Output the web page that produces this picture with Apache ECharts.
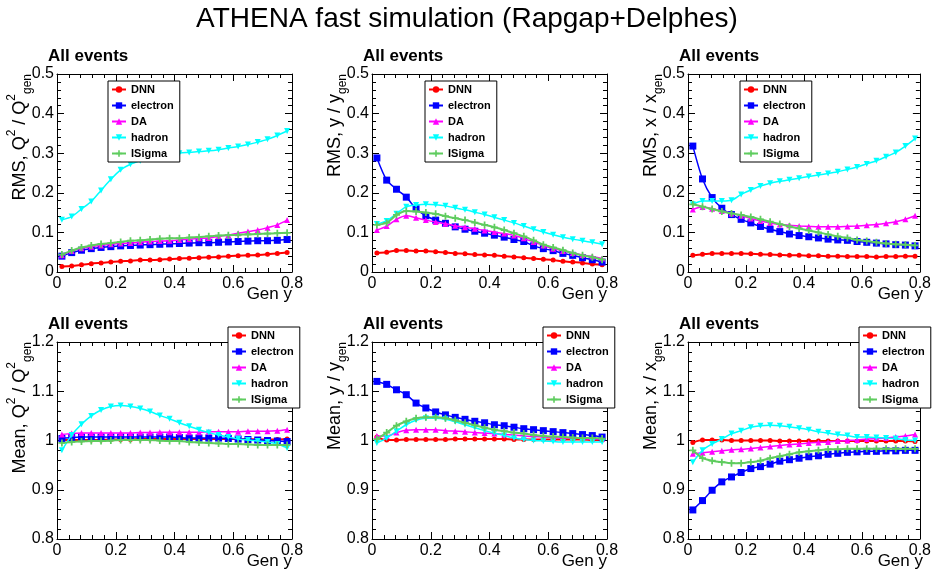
<!DOCTYPE html>
<html>
<head>
<meta charset="utf-8">
<script src="https://cdn.jsdelivr.net/npm/echarts@6/dist/echarts.min.js"></script>
<style>
html,body{margin:0;padding:0;background:#fff;}
#chart{width:934px;height:577px;}
</style>
</head>
<body>
<div id="chart"></div>
<script>
// Bin centres of generated y (30 bins over 0..1, first 24 shown)
const genY = [0.0167,0.05,0.0833,0.1167,0.15,0.1833,0.2167,0.25,0.2833,0.3167,0.35,0.3833,
              0.4167,0.45,0.4833,0.5167,0.55,0.5833,0.6167,0.65,0.6833,0.7167,0.75,0.7833];

const methods = ['DNN','electron','DA','hadron','ISigma'];
const xTicks = [0,0.2,0.4,0.6,0.8];

// RMS of Q2 / Q2_gen
const rmsQ2_DNN      = [0.014,0.015,0.018,0.021,0.023,0.025,0.027,0.028,0.030,0.030,0.031,0.033,0.034,0.035,0.036,0.037,0.038,0.040,0.041,0.042,0.043,0.045,0.047,0.049];
const rmsQ2_electron = [0.040,0.049,0.055,0.059,0.062,0.064,0.066,0.067,0.068,0.069,0.070,0.071,0.072,0.073,0.074,0.074,0.075,0.076,0.077,0.078,0.079,0.079,0.080,0.082];
const rmsQ2_DA       = [0.042,0.053,0.060,0.064,0.067,0.070,0.072,0.073,0.075,0.077,0.078,0.079,0.081,0.083,0.085,0.086,0.090,0.093,0.098,0.102,0.106,0.112,0.119,0.131];
const rmsQ2_hadron   = [0.132,0.140,0.159,0.178,0.206,0.234,0.258,0.272,0.281,0.288,0.293,0.297,0.300,0.302,0.304,0.306,0.309,0.313,0.317,0.322,0.328,0.335,0.345,0.356];
const rmsQ2_ISigma   = [0.044,0.054,0.062,0.067,0.071,0.073,0.076,0.079,0.080,0.082,0.084,0.085,0.085,0.087,0.088,0.090,0.092,0.093,0.094,0.095,0.096,0.097,0.098,0.099];

// RMS of y / y_gen
const rmsY_DNN      = [0.048,0.050,0.054,0.054,0.053,0.053,0.051,0.049,0.047,0.046,0.044,0.043,0.042,0.040,0.038,0.036,0.034,0.032,0.030,0.027,0.025,0.023,0.020,0.018];
const rmsY_electron = [0.288,0.232,0.209,0.189,0.160,0.142,0.131,0.123,0.114,0.108,0.103,0.098,0.093,0.088,0.082,0.077,0.066,0.059,0.054,0.047,0.042,0.036,0.031,0.025];
const rmsY_DA       = [0.106,0.116,0.133,0.142,0.137,0.131,0.126,0.122,0.117,0.113,0.109,0.105,0.101,0.097,0.092,0.085,0.076,0.067,0.059,0.053,0.048,0.043,0.039,0.034];
const rmsY_hadron   = [0.121,0.129,0.147,0.165,0.169,0.171,0.170,0.167,0.162,0.157,0.151,0.145,0.138,0.131,0.124,0.116,0.108,0.101,0.094,0.088,0.083,0.079,0.075,0.070];
const rmsY_ISigma   = [0.119,0.124,0.144,0.154,0.153,0.150,0.147,0.141,0.136,0.131,0.125,0.119,0.113,0.106,0.098,0.090,0.080,0.069,0.062,0.055,0.048,0.042,0.037,0.031];

// RMS of x / x_gen
const rmsX_DNN      = [0.042,0.045,0.047,0.047,0.047,0.047,0.046,0.045,0.044,0.043,0.042,0.042,0.041,0.041,0.040,0.040,0.039,0.039,0.039,0.038,0.039,0.039,0.040,0.040];
const rmsX_electron = [0.318,0.235,0.188,0.161,0.145,0.133,0.124,0.115,0.108,0.102,0.096,0.092,0.089,0.086,0.083,0.081,0.080,0.077,0.075,0.073,0.071,0.069,0.068,0.066];
const rmsX_DA       = [0.158,0.164,0.160,0.154,0.148,0.142,0.135,0.129,0.124,0.120,0.118,0.116,0.115,0.114,0.114,0.114,0.115,0.116,0.118,0.120,0.123,0.127,0.133,0.142];
const rmsX_hadron   = [0.171,0.179,0.179,0.179,0.181,0.196,0.207,0.217,0.224,0.229,0.233,0.237,0.241,0.245,0.249,0.253,0.259,0.265,0.273,0.281,0.291,0.302,0.318,0.337];
const rmsX_ISigma   = [0.171,0.165,0.159,0.153,0.148,0.144,0.139,0.133,0.127,0.121,0.115,0.110,0.105,0.100,0.095,0.090,0.086,0.081,0.078,0.075,0.072,0.070,0.069,0.067];

// Mean of Q2 / Q2_gen
const meanQ2_DNN      = [1.001,1.001,1.001,1.001,1.001,1.002,1.002,1.002,1.003,1.003,1.003,1.003,1.003,1.003,1.003,1.003,1.003,1.003,1.003,1.003,1.002,1.002,1.002,1.003];
const meanQ2_electron = [1.004,1.006,1.007,1.007,1.007,1.007,1.007,1.007,1.007,1.007,1.007,1.007,1.006,1.005,1.005,1.005,1.005,1.004,1.003,1.002,1.001,1.000,0.999,0.998];
const meanQ2_DA       = [1.012,1.014,1.015,1.015,1.015,1.015,1.015,1.015,1.016,1.016,1.017,1.017,1.017,1.017,1.017,1.018,1.018,1.018,1.018,1.019,1.019,1.019,1.020,1.022];
const meanQ2_hadron   = [0.980,1.011,1.033,1.050,1.062,1.069,1.071,1.069,1.065,1.059,1.051,1.044,1.036,1.029,1.022,1.016,1.011,1.007,1.003,1.001,0.999,0.997,0.993,0.985];
const meanQ2_ISigma   = [0.995,0.997,0.998,0.999,0.999,1.000,1.001,1.001,1.001,1.001,1.000,0.999,0.999,0.997,0.996,0.995,0.994,0.993,0.993,0.992,0.991,0.991,0.991,0.991];

// Mean of y / y_gen
const meanY_DNN      = [1.007,1.001,1.001,1.002,1.002,1.002,1.002,1.002,1.003,1.003,1.003,1.003,1.003,1.003,1.002,1.002,1.002,1.002,1.002,1.002,1.002,1.002,1.001,1.001];
const meanY_electron = [1.120,1.114,1.103,1.093,1.076,1.066,1.058,1.052,1.047,1.043,1.039,1.036,1.032,1.030,1.027,1.024,1.022,1.020,1.018,1.016,1.014,1.012,1.010,1.007];
const meanY_DA       = [1.009,1.009,1.016,1.021,1.022,1.022,1.022,1.020,1.019,1.018,1.016,1.015,1.014,1.012,1.011,1.009,1.008,1.007,1.006,1.005,1.005,1.004,1.003,1.003];
const meanY_hadron   = [0.995,1.005,1.019,1.032,1.041,1.045,1.045,1.043,1.038,1.032,1.026,1.020,1.015,1.010,1.005,1.002,1.000,0.999,0.998,0.997,0.997,0.997,0.997,0.997];
const meanY_ISigma   = [1.003,1.016,1.030,1.039,1.045,1.047,1.047,1.045,1.041,1.036,1.031,1.026,1.022,1.019,1.016,1.014,1.011,1.009,1.008,1.007,1.006,1.005,1.005,1.004];

// Mean of x / x_gen
const meanX_DNN      = [0.996,1.001,1.001,1.001,1.000,1.000,1.000,1.000,1.000,0.999,0.999,0.999,0.999,0.999,0.999,0.999,0.999,0.999,0.999,0.999,0.999,0.999,0.999,0.998];
const meanX_electron = [0.859,0.878,0.899,0.916,0.926,0.935,0.943,0.947,0.952,0.958,0.961,0.964,0.967,0.969,0.972,0.974,0.976,0.977,0.978,0.978,0.979,0.979,0.980,0.980];
const meanX_DA       = [0.973,0.975,0.977,0.979,0.981,0.982,0.984,0.986,0.988,0.990,0.992,0.993,0.995,0.996,0.997,0.999,1.000,1.001,1.003,1.004,1.005,1.007,1.009,1.012];
const meanX_hadron   = [0.956,0.980,0.993,1.003,1.014,1.020,1.027,1.030,1.031,1.030,1.028,1.025,1.022,1.018,1.015,1.012,1.010,1.007,1.007,1.006,1.005,1.004,1.001,1.000];
const meanX_ISigma   = [0.980,0.964,0.959,0.956,0.954,0.954,0.956,0.959,0.964,0.968,0.972,0.976,0.978,0.980,0.982,0.982,0.983,0.983,0.983,0.983,0.983,0.983,0.983,0.983];

const FONT = '"Liberation Sans", Arial, Helvetica, sans-serif';

// Marker / line style per reconstruction method
const methodStyle = {
  DNN:      {color:'#ff0000', symbol:'circle',   size:5, rotate:0,   width:2},
  electron: {color:'#0000ff', symbol:'rect',     size:7, rotate:0,   width:1.5},
  DA:       {color:'#ff00ff', symbol:'triangle', size:6, rotate:0,   width:1.5},
  hadron:   {color:'#00ffff', symbol:'triangle', size:6, rotate:180, width:1.5},
  ISigma:   {color:'#5fcc5f', symbol:'path://M3,0H5V3H8V5H5V8H3V5H0V3H3Z', size:7, rotate:0, width:2}
};

// Panel layout: plot rectangle, y range, y title pieces, data, legend corner
const panels = [
  {rect:[57,74,235,198], yMin:0, yMax:0.5, yStep:0.1,
   yTitle:'{n|RMS, Q}{p|2}{n| / Q}{p|2}{b|gen}', leg:[108,81],
   data:[rmsQ2_DNN,rmsQ2_electron,rmsQ2_DA,rmsQ2_hadron,rmsQ2_ISigma]},
  {rect:[372,74,235,198], yMin:0, yMax:0.5, yStep:0.1,
   yTitle:'{n|RMS, y / y}{b|gen}', leg:[425,81],
   data:[rmsY_DNN,rmsY_electron,rmsY_DA,rmsY_hadron,rmsY_ISigma]},
  {rect:[688,74,235,198], yMin:0, yMax:0.5, yStep:0.1,
   yTitle:'{n|RMS, x / x}{b|gen}', leg:[740,81],
   data:[rmsX_DNN,rmsX_electron,rmsX_DA,rmsX_hadron,rmsX_ISigma]},
  {rect:[57,342,235,197], yMin:0.8, yMax:1.2, yStep:0.1,
   yTitle:'{n|Mean, Q}{p|2}{n| / Q}{p|2}{b|gen}', leg:[228,327],
   data:[meanQ2_DNN,meanQ2_electron,meanQ2_DA,meanQ2_hadron,meanQ2_ISigma]},
  {rect:[372,342,235,197], yMin:0.8, yMax:1.2, yStep:0.1,
   yTitle:'{n|Mean, y / y}{b|gen}', leg:[543,327],
   data:[meanY_DNN,meanY_electron,meanY_DA,meanY_hadron,meanY_ISigma]},
  {rect:[688,342,235,197], yMin:0.8, yMax:1.2, yStep:0.1,
   yTitle:'{n|Mean, x / x}{b|gen}', leg:[859,327],
   data:[meanX_DNN,meanX_electron,meanX_DA,meanX_hadron,meanX_ISigma]}
];

const fmt = v => String(parseFloat(v.toFixed(2)));

const grid = [], xAxis = [], yAxis = [], series = [], legend = [], graphic = [];

panels.forEach((p, i) => {
  const [L, T, W, H] = p.rect;
  grid.push({left:L, top:T, width:W, height:H, show:false, containLabel:false});

  const tick = {inside:true, length:7, lineStyle:{color:'#000', width:1}};
  const minor = (n) => ({show:true, splitNumber:n, length:4, lineStyle:{color:'#000', width:1}});
  const line = {show:true, onZero:false, lineStyle:{color:'#000', width:1}};
  const lab = {fontSize:16, color:'#000', fontFamily:FONT};

  xAxis.push({type:'value', gridIndex:i, position:'bottom', min:xTicks[0], max:xTicks[xTicks.length-1],
    interval:0.2, axisLine:line, axisTick:tick, minorTick:minor(5),
    axisLabel:Object.assign({margin:4, formatter:fmt}, lab), splitLine:{show:false}});
  xAxis.push({type:'value', gridIndex:i, position:'top', min:xTicks[0], max:xTicks[xTicks.length-1],
    interval:0.2, axisLine:line, axisTick:tick, minorTick:minor(5),
    axisLabel:{show:false}, splitLine:{show:false}});
  yAxis.push({type:'value', gridIndex:i, position:'left', min:p.yMin, max:p.yMax, interval:p.yStep,
    axisLine:line, axisTick:tick, minorTick:minor(5),
    axisLabel:Object.assign({margin:3, formatter:fmt}, lab), splitLine:{show:false}});
  yAxis.push({type:'value', gridIndex:i, position:'right', min:p.yMin, max:p.yMax, interval:p.yStep,
    axisLine:line, axisTick:tick, minorTick:minor(5),
    axisLabel:{show:false}, splitLine:{show:false}});

  methods.forEach((m, k) => {
    const s = methodStyle[m];
    series.push({
      name:m, type:'line', xAxisIndex:2*i, yAxisIndex:2*i,
      data:genY.map((x, j) => [x, p.data[k][j]]),
      symbol:s.symbol, symbolSize:s.size, symbolRotate:s.rotate, showAllSymbol:true,
      smooth:0.25, itemStyle:{color:s.color}, lineStyle:{color:s.color, width:s.width},
      emphasis:{disabled:true}, animation:false, clip:true, z:2+k*0.01
    });
  });

  legend.push({
    left:p.leg[0], top:p.leg[1], orient:'vertical', data:methods, selectedMode:false,
    backgroundColor:'#fff', borderColor:'#000', borderWidth:1, borderRadius:0,
    padding:[3,6,3,3], itemWidth:14, itemHeight:8, itemGap:5, itemSymbolRotate:'inherit',
    textStyle:{fontSize:11, fontWeight:'bold', color:'#000', fontFamily:FONT, lineHeight:10},
    z:10
  });

  // "All events" label
  graphic.push({type:'text', left:L - 9, top:T - 26,
    style:{text:'All events', font:'bold 17px ' + FONT, fill:'#000'}});
  // y-axis title, right-aligned at the top of the axis
  graphic.push({type:'text', x:L - 37, y:T, rotation:Math.PI/2,
    style:{text:p.yTitle, align:'right', verticalAlign:'middle', textAlign:'right', textVerticalAlign:'middle',
      rich:{
        n:{fontSize:18, lineHeight:28, fontFamily:FONT, color:'#000'},
        p:{fontSize:12, lineHeight:12, fontFamily:FONT, color:'#000', verticalAlign:'top'},
        b:{fontSize:12, lineHeight:12, fontFamily:FONT, color:'#000', verticalAlign:'bottom'}
      }}});
  // x-axis title
  graphic.push({type:'text', x:L + W, y:T + H + 22,
    style:{text:'Gen y', align:'right', verticalAlign:'middle', textAlign:'right', textVerticalAlign:'middle',
      font:'17px ' + FONT, fill:'#000'}});
});

const chart = echarts.init(document.getElementById('chart'), null, {renderer:'canvas'});
chart.setOption({
  backgroundColor:'#fff',
  animation:false,
  title:{text:'ATHENA fast simulation (Rapgap+Delphes)', left:'center', top:0,
    textStyle:{fontSize:28, fontWeight:'normal', color:'#000', fontFamily:FONT}},
  grid, xAxis, yAxis, series, legend, graphic
});
</script>
</body>
</html>
